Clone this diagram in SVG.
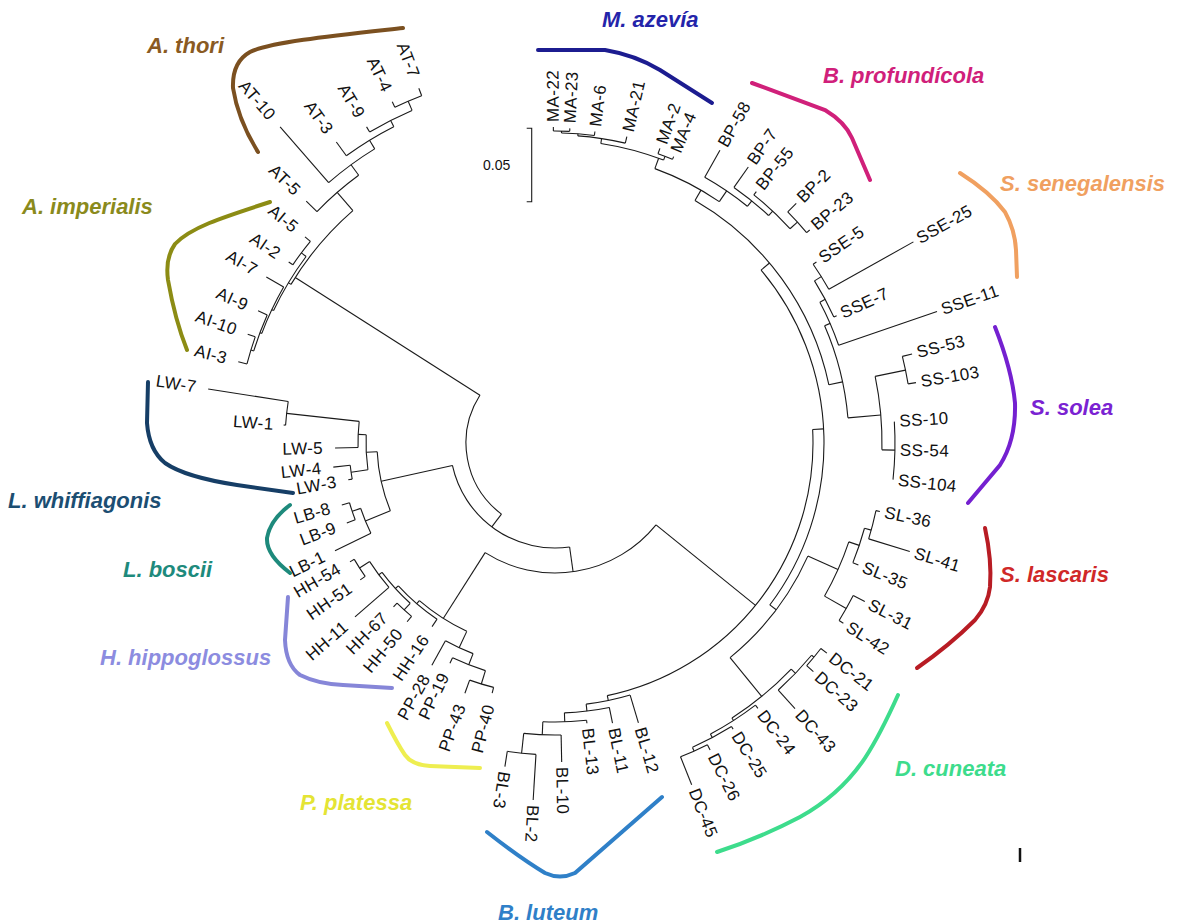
<svg xmlns="http://www.w3.org/2000/svg" width="1184" height="924" viewBox="0 0 1184 924">
<style>
.c line,.c circle{stroke:#1a1a1a;stroke-width:1.1;fill:none}
.t{font-family:"Liberation Sans",Arial,sans-serif;font-size:17px;fill:#111;dominant-baseline:central;letter-spacing:0.4px}
.l{text-anchor:end}
.sp{font-family:"Liberation Sans",Arial,sans-serif;font-size:22px;font-weight:bold;font-style:italic}
.cv{fill:none;stroke-width:4;stroke-linecap:round}
</style>
<rect width="1184" height="924" fill="#fff"/>
<g id="connectors" class="c" transform="translate(555 443)">
<circle r="89" pathLength="360" stroke-dasharray="85.5 1000" transform="rotate(127)"/>
<circle r="105" pathLength="360" stroke-dasharray="85.6 1000" transform="rotate(82)"/>
<circle r="130" pathLength="360" stroke-dasharray="83.5 1000" transform="rotate(39)"/>
<circle r="258" pathLength="360" stroke-dasharray="81.3 1000" transform="rotate(-3)"/>
<circle r="269" pathLength="360" stroke-dasharray="77 1000" transform="rotate(-40)"/>
<circle r="280" pathLength="360" stroke-dasharray="48 1000" transform="rotate(-60)"/>
<circle r="292" pathLength="360" stroke-dasharray="14.25 1000" transform="rotate(-70)"/>
<circle r="303" pathLength="360" stroke-dasharray="12.3 1000" transform="rotate(-81.3)"/>
<circle r="308" pathLength="360" stroke-dasharray="8.95 1000" transform="rotate(-85.75)"/>
<circle r="310" pathLength="360" stroke-dasharray="6.1 1000" transform="rotate(-88.8)"/>
<circle r="312" pathLength="360" stroke-dasharray="3 1000" transform="rotate(-90.3)"/>
<circle r="307" pathLength="360" stroke-dasharray="2.9 1000" transform="rotate(-70.4)"/>
<circle r="305" pathLength="360" stroke-dasharray="9.7 1000" transform="rotate(-60.6)"/>
<circle r="312" pathLength="360" stroke-dasharray="8.2 1000" transform="rotate(-55)"/>
<circle r="318" pathLength="360" stroke-dasharray="8.95 1000" transform="rotate(-51.3)"/>
<circle r="328" pathLength="360" stroke-dasharray="4.9 1000" transform="rotate(-44.8)"/>
<circle r="294" pathLength="360" stroke-dasharray="18.6 1000" transform="rotate(-23.5)"/>
<circle r="300" pathLength="360" stroke-dasharray="9 1000" transform="rotate(-28)"/>
<circle r="306" pathLength="360" stroke-dasharray="7.7 1000" transform="rotate(-32)"/>
<circle r="314" pathLength="360" stroke-dasharray="5.4 1000" transform="rotate(-34.7)"/>
<circle r="327" pathLength="360" stroke-dasharray="12.95 1000" transform="rotate(-11.75)"/>
<circle r="358" pathLength="360" stroke-dasharray="4.5 1000" transform="rotate(-14)"/>
<circle r="340" pathLength="360" stroke-dasharray="9.8 1000" transform="rotate(-3.6)"/>
<circle r="277" pathLength="360" stroke-dasharray="26.7 1000" transform="rotate(24.1)"/>
<circle r="310" pathLength="360" stroke-dasharray="11 1000" transform="rotate(18.6)"/>
<circle r="321" pathLength="360" stroke-dasharray="6.5 1000" transform="rotate(15.4)"/>
<circle r="328" pathLength="360" stroke-dasharray="5.1 1000" transform="rotate(11.9)"/>
<circle r="335" pathLength="360" stroke-dasharray="4.9 1000" transform="rotate(27.1)"/>
<circle r="327" pathLength="360" stroke-dasharray="13.5 1000" transform="rotate(43.75)"/>
<circle r="333" pathLength="360" stroke-dasharray="8.3 1000" transform="rotate(39.6)"/>
<circle r="336" pathLength="360" stroke-dasharray="3.8 1000" transform="rotate(37.7)"/>
<circle r="330" pathLength="360" stroke-dasharray="9.3 1000" transform="rotate(52.6)"/>
<circle r="334" pathLength="360" stroke-dasharray="7.6 1000" transform="rotate(58.1)"/>
<circle r="338" pathLength="360" stroke-dasharray="5 1000" transform="rotate(63.2)"/>
<circle r="263" pathLength="360" stroke-dasharray="9.8 1000" transform="rotate(73.4)"/>
<circle r="270" pathLength="360" stroke-dasharray="9.6 1000" transform="rotate(78.4)"/>
<circle r="279" pathLength="360" stroke-dasharray="9 1000" transform="rotate(83.5)"/>
<circle r="292" pathLength="360" stroke-dasharray="7.35 1000" transform="rotate(88.8)"/>
<circle r="312" pathLength="360" stroke-dasharray="5.3 1000" transform="rotate(93.5)"/>
<circle r="208" pathLength="360" stroke-dasharray="15.6 1000" transform="rotate(115.1)"/>
<circle r="212" pathLength="360" stroke-dasharray="13.85 1000" transform="rotate(123.8)"/>
<circle r="216" pathLength="360" stroke-dasharray="11.1 1000" transform="rotate(132.1)"/>
<circle r="220" pathLength="360" stroke-dasharray="8.4 1000" transform="rotate(139)"/>
<circle r="232" pathLength="360" stroke-dasharray="5 1000" transform="rotate(144.9)"/>
<circle r="225" pathLength="360" stroke-dasharray="5 1000" transform="rotate(129.6)"/>
<circle r="226" pathLength="360" stroke-dasharray="7.75 1000" transform="rotate(111.25)"/>
<circle r="238" pathLength="360" stroke-dasharray="8.5 1000" transform="rotate(107)"/>
<circle r="252" pathLength="360" stroke-dasharray="5.7 1000" transform="rotate(104.1)"/>
<circle r="178" pathLength="360" stroke-dasharray="19.55 1000" transform="rotate(157.65)"/>
<circle r="189" pathLength="360" stroke-dasharray="10.65 1000" transform="rotate(171.85)"/>
<circle r="197" pathLength="360" stroke-dasharray="7.6 1000" transform="rotate(178.7)"/>
<circle r="270" pathLength="360" stroke-dasharray="5.05 1000" transform="rotate(183.8)"/>
<circle r="206" pathLength="360" stroke-dasharray="3.9 1000" transform="rotate(169.9)"/>
<circle r="205" pathLength="360" stroke-dasharray="7.5 1000" transform="rotate(153.9)"/>
<circle r="214" pathLength="360" stroke-dasharray="4.8 1000" transform="rotate(159)"/>
<circle r="308" pathLength="360" stroke-dasharray="18 1000" transform="rotate(211)"/>
<circle r="311" pathLength="360" stroke-dasharray="11.65 1000" transform="rotate(205.2)"/>
<circle r="317" pathLength="360" stroke-dasharray="5.3 1000" transform="rotate(214.2)"/>
<circle r="313" pathLength="360" stroke-dasharray="9.4 1000" transform="rotate(200.5)"/>
<circle r="315" pathLength="360" stroke-dasharray="7 1000" transform="rotate(197)"/>
<circle r="318" pathLength="360" stroke-dasharray="5.1 1000" transform="rotate(194.4)"/>
<circle r="332" pathLength="360" stroke-dasharray="9.55 1000" transform="rotate(224.2)"/>
<circle r="345" pathLength="360" stroke-dasharray="9.5 1000" transform="rotate(229)"/>
<circle r="355" pathLength="360" stroke-dasharray="9 1000" transform="rotate(234)"/>
<circle r="362" pathLength="360" stroke-dasharray="7.55 1000" transform="rotate(239.2)"/>
<circle r="372" pathLength="360" stroke-dasharray="4.5 1000" transform="rotate(244.5)"/>
<line x1="89" x2="308" transform="rotate(212.5)"/>
<line x1="89" x2="105" transform="rotate(127)"/>
<line x1="105" x2="178" transform="rotate(167.6)"/>
<line x1="105" x2="130" transform="rotate(82)"/>
<line x1="130" x2="208" transform="rotate(122.5)"/>
<line x1="130" x2="258" transform="rotate(39)"/>
<line x1="258" x2="263" transform="rotate(78.3)"/>
<line x1="258" x2="269" transform="rotate(-3)"/>
<line x1="269" x2="277" transform="rotate(37)"/>
<line x1="269" x2="280" transform="rotate(-40)"/>
<line x1="280" x2="292" transform="rotate(-60)"/>
<line x1="280" x2="294" transform="rotate(-12)"/>
<line x1="292" x2="303" transform="rotate(-70)"/>
<line x1="292" x2="305" transform="rotate(-55.75)"/>
<line x1="303" x2="308" transform="rotate(-81.3)"/>
<line x1="303" x2="307" transform="rotate(-69)"/>
<line x1="308" x2="310" transform="rotate(-85.75)"/>
<line x1="308" x2="314.6" transform="rotate(-76.8)"/>
<line x1="310" x2="312" transform="rotate(-88.8)"/>
<line x1="310" x2="314" transform="rotate(-82.7)"/>
<line x1="312" x2="316" transform="rotate(-90.3)"/>
<line x1="312" x2="315" transform="rotate(-87.3)"/>
<line x1="307" x2="312.8" transform="rotate(-70.4)"/>
<line x1="307" x2="310" transform="rotate(-67.5)"/>
<line x1="305" x2="336" transform="rotate(-60.6)"/>
<line x1="305" x2="312" transform="rotate(-50.9)"/>
<line x1="312" x2="337" transform="rotate(-55)"/>
<line x1="312" x2="318" transform="rotate(-46.8)"/>
<line x1="318" x2="322" transform="rotate(-51.3)"/>
<line x1="318" x2="328" transform="rotate(-42.35)"/>
<line x1="328" x2="340" transform="rotate(-44.8)"/>
<line x1="328" x2="332" transform="rotate(-39.9)"/>
<line x1="294" x2="327" transform="rotate(-4.9)"/>
<line x1="294" x2="300" transform="rotate(-23.5)"/>
<line x1="300" x2="404" transform="rotate(-19)"/>
<line x1="300" x2="306" transform="rotate(-28)"/>
<line x1="306" x2="309" transform="rotate(-24.3)"/>
<line x1="306" x2="314" transform="rotate(-32)"/>
<line x1="314" x2="318" transform="rotate(-34.7)"/>
<line x1="314" x2="411" transform="rotate(-29.3)"/>
<line x1="327" x2="358" transform="rotate(-11.75)"/>
<line x1="327" x2="340" transform="rotate(1.2)"/>
<line x1="358" x2="368" transform="rotate(-14)"/>
<line x1="358" x2="366" transform="rotate(-9.5)"/>
<line x1="277" x2="310" transform="rotate(24.1)"/>
<line x1="277" x2="327" transform="rotate(50.8)"/>
<line x1="310" x2="321" transform="rotate(18.6)"/>
<line x1="310" x2="335" transform="rotate(29.6)"/>
<line x1="321" x2="328" transform="rotate(15.4)"/>
<line x1="321" x2="327" transform="rotate(21.9)"/>
<line x1="328" x2="332" transform="rotate(11.9)"/>
<line x1="328" x2="371" transform="rotate(17)"/>
<line x1="335" x2="348" transform="rotate(27.1)"/>
<line x1="335" x2="340" transform="rotate(32)"/>
<line x1="327" x2="333" transform="rotate(43.75)"/>
<line x1="327" x2="330" transform="rotate(57.25)"/>
<line x1="333" x2="336" transform="rotate(39.6)"/>
<line x1="333" x2="358" transform="rotate(47.9)"/>
<line x1="336" x2="343.6" transform="rotate(37.7)"/>
<line x1="336" x2="345" transform="rotate(41.5)"/>
<line x1="330" x2="334" transform="rotate(52.6)"/>
<line x1="330" x2="334" transform="rotate(61.9)"/>
<line x1="334" x2="337" transform="rotate(58.1)"/>
<line x1="334" x2="338" transform="rotate(65.7)"/>
<line x1="338" x2="344" transform="rotate(63.2)"/>
<line x1="338" x2="368" transform="rotate(68.2)"/>
<line x1="263" x2="292" transform="rotate(73.4)"/>
<line x1="263" x2="270" transform="rotate(83.2)"/>
<line x1="270" x2="286" transform="rotate(78.4)"/>
<line x1="270" x2="279" transform="rotate(88)"/>
<line x1="279" x2="282" transform="rotate(83.5)"/>
<line x1="279" x2="292" transform="rotate(92.5)"/>
<line x1="292" x2="319" transform="rotate(88.8)"/>
<line x1="292" x2="312" transform="rotate(96.15)"/>
<line x1="312" x2="357.7" transform="rotate(93.5)"/>
<line x1="312" x2="327.5" transform="rotate(98.8)"/>
<line x1="208" x2="226" transform="rotate(115.1)"/>
<line x1="208" x2="212" transform="rotate(130.7)"/>
<line x1="212" x2="221" transform="rotate(123.8)"/>
<line x1="212" x2="216" transform="rotate(137.65)"/>
<line x1="216" x2="225" transform="rotate(132.1)"/>
<line x1="216" x2="220" transform="rotate(143.2)"/>
<line x1="220" x2="265" transform="rotate(139)"/>
<line x1="220" x2="232" transform="rotate(147.4)"/>
<line x1="232" x2="238" transform="rotate(144.9)"/>
<line x1="232" x2="237" transform="rotate(149.9)"/>
<line x1="225" x2="232" transform="rotate(129.6)"/>
<line x1="225" x2="230" transform="rotate(134.6)"/>
<line x1="226" x2="254" transform="rotate(119)"/>
<line x1="226" x2="238" transform="rotate(111.25)"/>
<line x1="238" x2="244" transform="rotate(115.5)"/>
<line x1="238" x2="252" transform="rotate(107)"/>
<line x1="252" x2="258" transform="rotate(104.1)"/>
<line x1="252" x2="266" transform="rotate(109.8)"/>
<line x1="178" x2="205" transform="rotate(157.65)"/>
<line x1="178" x2="189" transform="rotate(177.2)"/>
<line x1="189" x2="206" transform="rotate(171.85)"/>
<line x1="189" x2="197" transform="rotate(182.5)"/>
<line x1="197" x2="220" transform="rotate(178.7)"/>
<line x1="197" x2="270" transform="rotate(186.3)"/>
<line x1="270" x2="351" transform="rotate(188.85)"/>
<line x1="270" x2="272" transform="rotate(183.8)"/>
<line x1="206" x2="210" transform="rotate(169.9)"/>
<line x1="206" x2="223" transform="rotate(173.8)"/>
<line x1="205" x2="245" transform="rotate(153.9)"/>
<line x1="205" x2="214" transform="rotate(161.4)"/>
<line x1="214" x2="223" transform="rotate(159)"/>
<line x1="214" x2="222" transform="rotate(163.8)"/>
<line x1="308" x2="311" transform="rotate(211)"/>
<line x1="308" x2="332" transform="rotate(229)"/>
<line x1="311" x2="313" transform="rotate(205.2)"/>
<line x1="311" x2="317" transform="rotate(216.85)"/>
<line x1="317" x2="322" transform="rotate(214.2)"/>
<line x1="317" x2="324" transform="rotate(219.5)"/>
<line x1="313" x2="315" transform="rotate(200.5)"/>
<line x1="313" x2="333" transform="rotate(209.9)"/>
<line x1="315" x2="318" transform="rotate(197)"/>
<line x1="315" x2="325" transform="rotate(204)"/>
<line x1="318" x2="327" transform="rotate(194.4)"/>
<line x1="318" x2="326" transform="rotate(199.5)"/>
<line x1="332" x2="347" transform="rotate(224.2)"/>
<line x1="332" x2="345" transform="rotate(233.75)"/>
<line x1="345" x2="419" transform="rotate(229)"/>
<line x1="345" x2="355" transform="rotate(238.5)"/>
<line x1="355" x2="372" transform="rotate(234)"/>
<line x1="355" x2="362" transform="rotate(243)"/>
<line x1="362" x2="368" transform="rotate(239.2)"/>
<line x1="362" x2="372" transform="rotate(246.75)"/>
<line x1="372" x2="378" transform="rotate(244.5)"/>
<line x1="372" x2="380" transform="rotate(249)"/>
</g>
<g id="tips" class="t" transform="translate(555 443)">
<g id="tip-AT-7"><text class="t l" x="-392" transform="rotate(69)">AT-7</text></g>
<g id="tip-AT-4"><text class="t l" x="-390" transform="rotate(64.5)">AT-4</text></g>
<g id="tip-AT-9"><text class="t l" x="-380" transform="rotate(59.2)">AT-9</text></g>
<g id="tip-AT-3"><text class="t l" x="-384" transform="rotate(54)">AT-3</text></g>
<g id="tip-AT-10"><text class="t l" x="-431" transform="rotate(49)">AT-10</text></g>
<g id="tip-AT-5"><text class="t l" x="-359" transform="rotate(44.2)">AT-5</text></g>
<g id="tip-AI-5"><text class="t l" x="-336" transform="rotate(39.5)">AI-5</text></g>
<g id="tip-AI-2"><text class="t l" x="-334" transform="rotate(34.2)">AI-2</text></g>
<g id="tip-AI-7"><text class="t l" x="-345" transform="rotate(29.9)">AI-7</text></g>
<g id="tip-AI-9"><text class="t l" x="-337" transform="rotate(24)">AI-9</text></g>
<g id="tip-AI-10"><text class="t l" x="-338" transform="rotate(19.5)">AI-10</text></g>
<g id="tip-AI-3"><text class="t l" x="-339" transform="rotate(14.4)">AI-3</text></g>
<g id="tip-LW-7"><text class="t l" x="-363" transform="rotate(8.85)">LW-7</text></g>
<g id="tip-LW-1"><text class="t l" x="-282" transform="rotate(3.8)">LW-1</text></g>
<g id="tip-LW-5"><text class="t l" x="-232" transform="rotate(-1.3)">LW-5</text></g>
<g id="tip-LW-4"><text class="t l" x="-235" transform="rotate(-6.2)">LW-4</text></g>
<g id="tip-LW-3"><text class="t l" x="-222" transform="rotate(-10.1)">LW-3</text></g>
<g id="tip-LB-8"><text class="t l" x="-234" transform="rotate(-16.2)">LB-8</text></g>
<g id="tip-LB-9"><text class="t l" x="-235" transform="rotate(-21)">LB-9</text></g>
<g id="tip-LB-1"><text class="t l" x="-257" transform="rotate(-26.1)">LB-1</text></g>
<g id="tip-HH-54"><text class="t l" x="-249" transform="rotate(-30.1)">HH-54</text></g>
<g id="tip-HH-51"><text class="t l" x="-250" transform="rotate(-35.1)">HH-51</text></g>
<g id="tip-HH-11"><text class="t l" x="-277" transform="rotate(-41)">HH-11</text></g>
<g id="tip-HH-67"><text class="t l" x="-242" transform="rotate(-45.4)">HH-67</text></g>
<g id="tip-HH-50"><text class="t l" x="-244" transform="rotate(-50.4)">HH-50</text></g>
<g id="tip-HH-16"><text class="t l" x="-233" transform="rotate(-56.2)">HH-16</text></g>
<g id="tip-PP-28"><text class="t l" x="-266" transform="rotate(-61)">PP-28</text></g>
<g id="tip-PP-19"><text class="t l" x="-256" transform="rotate(-64.5)">PP-19</text></g>
<g id="tip-PP-43"><text class="t l" x="-278" transform="rotate(-70.2)">PP-43</text></g>
<g id="tip-PP-40"><text class="t l" x="-270" transform="rotate(-75.9)">PP-40</text></g>
<g id="tip-BL-3"><text class="t" x="332.5" transform="rotate(98.8)">BL-3</text></g>
<g id="tip-BL-2"><text class="t" x="362.7" transform="rotate(93.5)">BL-2</text></g>
<g id="tip-BL-10"><text class="t" x="324" transform="rotate(88.8)">BL-10</text></g>
<g id="tip-BL-13"><text class="t" x="287" transform="rotate(83.5)">BL-13</text></g>
<g id="tip-BL-11"><text class="t" x="291" transform="rotate(78.4)">BL-11</text></g>
<g id="tip-BL-12"><text class="t" x="297" transform="rotate(73.4)">BL-12</text></g>
<g id="tip-DC-45"><text class="t" x="373" transform="rotate(68.2)">DC-45</text></g>
<g id="tip-DC-26"><text class="t" x="349" transform="rotate(63.2)">DC-26</text></g>
<g id="tip-DC-25"><text class="t" x="342" transform="rotate(58.1)">DC-25</text></g>
<g id="tip-DC-24"><text class="t" x="339" transform="rotate(52.6)">DC-24</text></g>
<g id="tip-DC-43"><text class="t" x="363" transform="rotate(47.9)">DC-43</text></g>
<g id="tip-DC-23"><text class="t" x="350" transform="rotate(41.5)">DC-23</text></g>
<g id="tip-DC-21"><text class="t" x="349" transform="rotate(37.7)">DC-21</text></g>
<g id="tip-SL-42"><text class="t" x="345" transform="rotate(32)">SL-42</text></g>
<g id="tip-SL-31"><text class="t" x="353" transform="rotate(27.1)">SL-31</text></g>
<g id="tip-SL-35"><text class="t" x="332" transform="rotate(21.9)">SL-35</text></g>
<g id="tip-SL-41"><text class="t" x="376" transform="rotate(17)">SL-41</text></g>
<g id="tip-SL-36"><text class="t" x="337" transform="rotate(11.9)">SL-36</text></g>
<g id="tip-SS-104"><text class="t" x="345" transform="rotate(6.2)">SS-104</text></g>
<g id="tip-SS-54"><text class="t" x="345" transform="rotate(1.2)">SS-54</text></g>
<g id="tip-SS-10"><text class="t" x="345" transform="rotate(-3.6)">SS-10</text></g>
<g id="tip-SS-103"><text class="t" x="371" transform="rotate(-9.5)">SS-103</text></g>
<g id="tip-SS-53"><text class="t" x="373" transform="rotate(-14)">SS-53</text></g>
<g id="tip-SSE-11"><text class="t" x="409" transform="rotate(-19)">SSE-11</text></g>
<g id="tip-SSE-7"><text class="t" x="314" transform="rotate(-24.3)">SSE-7</text></g>
<g id="tip-SSE-25"><text class="t" x="416" transform="rotate(-29.3)">SSE-25</text></g>
<g id="tip-SSE-5"><text class="t" x="323" transform="rotate(-34.7)">SSE-5</text></g>
<g id="tip-BP-23"><text class="t" x="337" transform="rotate(-39.9)">BP-23</text></g>
<g id="tip-BP-2"><text class="t" x="345" transform="rotate(-44.8)">BP-2</text></g>
<g id="tip-BP-55"><text class="t" x="327" transform="rotate(-51.3)">BP-55</text></g>
<g id="tip-BP-7"><text class="t" x="342" transform="rotate(-55)">BP-7</text></g>
<g id="tip-BP-58"><text class="t" x="341" transform="rotate(-60.6)">BP-58</text></g>
<g id="tip-MA-4"><text class="t" x="315" transform="rotate(-67.5)">MA-4</text></g>
<g id="tip-MA-2"><text class="t" x="318" transform="rotate(-70.4)">MA-2</text></g>
<g id="tip-MA-21"><text class="t" x="320" transform="rotate(-76.8)">MA-21</text></g>
<g id="tip-MA-6"><text class="t" x="319" transform="rotate(-82.7)">MA-6</text></g>
<g id="tip-MA-23"><text class="t" x="320" transform="rotate(-87.3)">MA-23</text></g>
<g id="tip-MA-22"><text class="t" x="321" transform="rotate(-90.3)">MA-22</text></g>
</g>
<g id="scale-bar">
<path d="M526.7 128.3H531.7V201.7H526.7" fill="none" stroke="#1a1a1a" stroke-width="1.1"/>
<text x="483" y="170" font-family="Liberation Sans, Arial, sans-serif" font-size="14" fill="#111">0.05</text>
</g>
<line id="tick-mark" x1="1020" y1="848" x2="1020" y2="862" stroke="#111" stroke-width="2.5"/>
<g id="clade-A-thori"><path class="cv" stroke="#7b5020" d="M403,28 C340,35 270,42 250,52 Q232,62 233,88 Q238,120 258,152"/><text class="sp" fill="#8a5a22" x="147" y="53">A. thori</text></g>
<g id="clade-A-imperialis"><path class="cv" stroke="#8c8c14" d="M270,202 C220,218 190,228 175,244 Q165,258 168,280 Q175,320 187,350"/><text class="sp" fill="#8a8a1c" x="22" y="214">A. imperialis</text></g>
<g id="clade-L-whiffiagonis"><path class="cv" stroke="#163e66" d="M148,382 L147,423 Q149,450 165,463 Q185,477 237,485 L293,493"/><text class="sp" fill="#1c4e72" x="8" y="508">L. whiffiagonis</text></g>
<g id="clade-L-boscii"><path class="cv" stroke="#1e8a7c" d="M290,505 Q270,520 267,538 Q266,555 290,573"/><text class="sp" fill="#1e8a7c" x="123" y="577">L. boscii</text></g>
<g id="clade-H-hippoglossus"><path class="cv" stroke="#8686d8" d="M288,597 L285,640 Q286,665 300,675 Q318,684 343,685 L392,688"/><text class="sp" fill="#8c8ce0" x="100" y="665">H. hippoglossus</text></g>
<g id="clade-P-platessa"><path class="cv" stroke="#eeee50" d="M387,723 Q398,745 405,755 Q412,765 430,766 L480,768"/><text class="sp" fill="#e4e434" x="300" y="810">P. platessa</text></g>
<g id="clade-B-luteum"><path class="cv" stroke="#2f80c8" d="M487,832 Q520,858 545,873 Q560,880 575,873 L662,797"/><text class="sp" fill="#2f80c8" x="498" y="920">B. luteum</text></g>
<g id="clade-D-cuneata"><path class="cv" stroke="#3ddc8c" d="M898,695 Q880,735 865,758 Q840,795 800,817 Q760,838 717,852"/><text class="sp" fill="#3ddc8c" x="895" y="776">D. cuneata</text></g>
<g id="clade-S-lascaris"><path class="cv" stroke="#b81c24" d="M985,528 Q992,560 990,587 Q988,605 975,620 Q950,645 917,668"/><text class="sp" fill="#d02828" x="1000" y="582">S. lascaris</text></g>
<g id="clade-S-solea"><path class="cv" stroke="#7420d0" d="M995,327 Q1012,370 1015,403 Q1016,440 1000,465 L968,503"/><text class="sp" fill="#7a22d2" x="1030" y="415">S. solea</text></g>
<g id="clade-S-senegalensis"><path class="cv" stroke="#f0a060" d="M960,173 Q990,192 1005,212 Q1015,230 1016,250 L1017,277"/><text class="sp" fill="#f0a060" x="1000" y="191">S. senegalensis</text></g>
<g id="clade-B-profundicola"><path class="cv" stroke="#d0207a" d="M752,83 L825,110 Q845,122 852,138 L870,180"/><text class="sp" fill="#d0207a" x="823" y="83">B. profundícola</text></g>
<g id="clade-M-azevia"><path class="cv" stroke="#1c1c90" d="M538,50 L605,50 Q635,55 660,70 L712,103"/><text class="sp" fill="#2424aa" x="602" y="27">M. azevía</text></g>
</svg>
